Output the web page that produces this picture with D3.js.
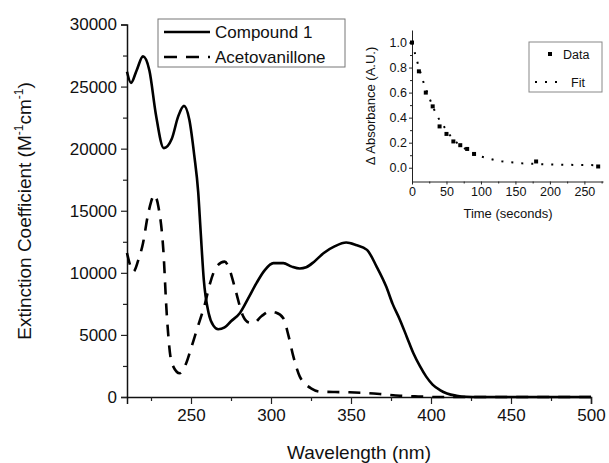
<!DOCTYPE html>
<html>
<head>
<meta charset="utf-8">
<script src="https://cdn.jsdelivr.net/npm/d3@7"></script>
<style>
  body { margin: 0; background: #fff; }
  text { font-family: "Liberation Sans", Arial, sans-serif; fill: #111; }
</style>
</head>
<body>
<div id="chart"></div>
<script>
// main spectrum: wavelength (nm) vs extinction coefficient
var compWl  = [210, 212.5, 216, 220, 224, 228, 233, 238, 242, 245.6, 249, 252, 254.5, 256, 258, 261, 264, 267, 271, 275, 280.6, 286, 291, 296, 301.5, 307.7, 313, 318, 322, 327, 333, 340, 347, 353, 360, 366, 372, 376, 380.6, 385, 389, 393, 397, 401, 405.6, 410, 416, 422, 430, 450, 475, 500];
var compEps = [26200, 25300, 26300, 27430, 26300, 22800, 20040, 20800, 22600, 23450, 22300, 19500, 16500, 13400, 9430, 6770, 5750, 5455, 5600, 6100, 6770, 8000, 9190, 10200, 10780, 10780, 10500, 10350, 10450, 10900, 11600, 12150, 12440, 12250, 11850, 10500, 8890, 7500, 6210, 4800, 3520, 2500, 1640, 1000, 560, 280, 100, 20, 0, 0, 0, 0];

var acetWl  = [210, 212, 214, 217, 220, 223, 225, 227, 229.6, 232.7, 234.8, 238, 243, 247, 250, 253.6, 258.8, 262, 266, 271, 274, 277.5, 282.7, 286, 289, 294, 299, 303, 307.7, 311, 314, 318, 321, 325, 330.6, 340, 349, 360, 370, 380.6, 392, 405, 430, 500];
var acetEps = [11600, 10600, 10100, 11000, 12390, 14600, 15700, 16280, 15340, 11850, 6770, 2720, 1910, 2720, 3900, 5400, 7550, 9200, 10500, 10900, 10300, 8760, 6470, 6000, 5940, 6500, 6880, 6800, 6340, 4900, 3250, 1640, 1100, 700, 430, 400, 380, 320, 220, 100, 40, 0, 0, 0];

var xTicks = [250, 300, 350, 400, 450, 500];
var yTicks = [0, 5000, 10000, 15000, 20000, 25000, 30000];
var seriesNames = ["Compound 1", "Acetovanillone"];

// inset: decay kinetics
var dataT   = [0, 10, 20, 30, 40, 50, 60, 70, 80, 90, 180, 270];
var dataAbs = [1.0, 0.77, 0.6, 0.49, 0.33, 0.27, 0.21, 0.18, 0.15, 0.11, 0.05, 0.01];
var fitT    = [0, 5, 10, 15, 20, 25, 30, 35, 40, 45, 50, 55, 60, 65, 70, 75, 80, 85, 90, 95, 100, 110, 120, 130, 140, 150, 160, 170, 180, 190, 200, 210, 220, 230, 240, 250, 260, 270];
var fitAbs  = [1.0, 0.9, 0.8, 0.71, 0.63, 0.56, 0.49, 0.43, 0.38, 0.34, 0.3, 0.26, 0.23, 0.2, 0.18, 0.16, 0.14, 0.125, 0.11, 0.1, 0.09, 0.075, 0.062, 0.052, 0.045, 0.04, 0.035, 0.032, 0.03, 0.028, 0.026, 0.025, 0.024, 0.023, 0.022, 0.022, 0.021, 0.02];
var insetXTicks = [0, 50, 100, 150, 200, 250];
var insetYTicks = [0.0, 0.2, 0.4, 0.6, 0.8, 1.0];

var W = 609, H = 463;
var svg = d3.select("#chart").append("svg").attr("width", W).attr("height", H);

var x = d3.scaleLinear().domain([210, 500]).range([127, 591]);
var y = d3.scaleLinear().domain([0, 30000]).range([397, 24.5]);

// axes
var xAxis = d3.axisBottom(x).tickValues(xTicks).tickSize(7).tickPadding(5).tickFormat(d3.format("d"));
var gx = svg.append("g").attr("transform", "translate(0," + y(0) + ")").call(xAxis);
svg.append("g").attr("transform", "translate(0," + y(0) + ")")
  .call(d3.axisBottom(x).tickValues([225, 275, 325, 375, 425, 475]).tickSize(4).tickFormat(""))
  .select(".domain").remove();

var yAxis = d3.axisLeft(y).tickValues(yTicks).tickSize(6).tickPadding(4).tickFormat(d3.format("d"));
var gy = svg.append("g").attr("transform", "translate(" + x(210) + ",0)").call(yAxis);
svg.append("g").attr("transform", "translate(" + x(210) + ",0)")
  .call(d3.axisLeft(y).tickValues([2500, 7500, 12500, 17500, 22500, 27500]).tickSize(4).tickFormat(""))
  .select(".domain").remove();

svg.selectAll(".domain").attr("stroke", "#111").attr("stroke-width", 1.5);
svg.selectAll(".tick line").attr("stroke", "#111").attr("stroke-width", 1.2);
gx.selectAll("text").attr("font-size", 17).attr("font-family", "Liberation Sans, Arial, sans-serif").attr("fill", "#111");
gy.selectAll("text").attr("font-size", 17).attr("font-family", "Liberation Sans, Arial, sans-serif").attr("fill", "#111");

// axis titles
svg.append("text").attr("x", 359).attr("y", 459).attr("text-anchor", "middle")
  .attr("font-size", 19).text("Wavelength (nm)");

var yt = svg.append("text").attr("transform", "translate(31,211) rotate(-90)")
  .attr("text-anchor", "middle").attr("font-size", 19);
yt.append("tspan").text("Extinction Coefficient (M");
yt.append("tspan").attr("font-size", 12).attr("dy", -8).text("-1");
yt.append("tspan").attr("dy", 8).text("cm");
yt.append("tspan").attr("font-size", 12).attr("dy", -8).text("-1");
yt.append("tspan").attr("dy", 8).text(")");

// curves
var line = d3.line().curve(d3.curveMonotoneX)
  .x(function (d) { return x(d[0]); })
  .y(function (d) { return y(d[1]); });

svg.append("path").datum(acetWl.map(function (w, i) { return [w, acetEps[i]]; }))
  .attr("d", line).attr("fill", "none").attr("stroke", "#000")
  .attr("stroke-width", 2.6).attr("stroke-dasharray", "12,9");

svg.append("path").datum(compWl.map(function (w, i) { return [w, compEps[i]]; }))
  .attr("d", line).attr("fill", "none").attr("stroke", "#000")
  .attr("stroke-width", 2.6);

// main legend
var lg = svg.append("g");
lg.append("rect").attr("x", 158).attr("y", 19).attr("width", 187).attr("height", 48)
  .attr("fill", "#fff").attr("stroke", "#777").attr("stroke-width", 1);
lg.append("line").attr("x1", 164).attr("x2", 210).attr("y1", 32).attr("y2", 32)
  .attr("stroke", "#000").attr("stroke-width", 2.6);
lg.append("line").attr("x1", 164).attr("x2", 210).attr("y1", 57).attr("y2", 57)
  .attr("stroke", "#000").attr("stroke-width", 2.6).attr("stroke-dasharray", "13,9");
lg.append("text").attr("x", 215).attr("y", 38).attr("font-size", 17).text(seriesNames[0]);
lg.append("text").attr("x", 215).attr("y", 63).attr("font-size", 17).text(seriesNames[1]);

// inset
var ix = d3.scaleLinear().domain([0, 277]).range([412, 603]);
var iy = d3.scaleLinear().domain([-0.11, 1.1]).range([181.5, 30]);

var igx = svg.append("g").attr("transform", "translate(0," + iy(-0.11) + ")")
  .call(d3.axisBottom(ix).tickValues(insetXTicks).tickSize(3).tickPadding(3).tickSizeOuter(0));
svg.append("g").attr("transform", "translate(0," + iy(-0.11) + ")")
  .call(d3.axisBottom(ix).tickValues([25, 75, 125, 175, 225, 275]).tickSize(2).tickFormat(""))
  .select(".domain").remove();
var igy = svg.append("g").attr("transform", "translate(412,0)")
  .call(d3.axisLeft(iy).tickValues(insetYTicks).tickSize(3).tickPadding(2).tickSizeOuter(0).tickFormat(d3.format(".1f")));
svg.append("g").attr("transform", "translate(412,0)")
  .call(d3.axisLeft(iy).tickValues([0.1, 0.3, 0.5, 0.7, 0.9]).tickSize(2).tickFormat(""))
  .select(".domain").remove();
[igx, igy].forEach(function (g) {
  g.select(".domain").attr("stroke", "#222").attr("stroke-width", 1);
  g.selectAll("text").attr("font-size", 12.5).attr("font-family", "Liberation Sans, Arial, sans-serif").attr("fill", "#111");
});
svg.selectAll(".tick line").attr("stroke", "#222");

svg.append("text").attr("x", 508).attr("y", 218).attr("text-anchor", "middle")
  .attr("font-size", 13).text("Time (seconds)");
svg.append("text").attr("transform", "translate(375,106) rotate(-90)")
  .attr("text-anchor", "middle").attr("font-size", 13).text("\u0394 Absorbance (A.U.)");

var iline = d3.line()
  .x(function (d) { return ix(d[0]); })
  .y(function (d) { return iy(d[1]); });
svg.append("path").datum(fitT.map(function (t, i) { return [t, fitAbs[i]]; }))
  .attr("d", iline).attr("fill", "none").attr("stroke", "#000")
  .attr("stroke-width", 2).attr("stroke-dasharray", "2,8");

svg.selectAll(".pt").data(dataT.map(function (t, i) { return [t, dataAbs[i]]; }))
  .enter().append("rect").attr("class", "pt")
  .attr("x", function (d) { return ix(d[0]) - 2; })
  .attr("y", function (d) { return iy(d[1]) - 2; })
  .attr("width", 4).attr("height", 4).attr("fill", "#000");

// inset legend
var il = svg.append("g");
il.append("rect").attr("x", 529).attr("y", 42).attr("width", 73).attr("height", 50)
  .attr("fill", "#fff").attr("stroke", "#888").attr("stroke-width", 1);
il.append("rect").attr("x", 548).attr("y", 52).attr("width", 4).attr("height", 4).attr("fill", "#000");
il.append("line").attr("x1", 535).attr("x2", 560).attr("y1", 82).attr("y2", 82)
  .attr("stroke", "#000").attr("stroke-width", 2).attr("stroke-dasharray", "2,8");
il.append("text").attr("x", 563).attr("y", 59).attr("font-size", 12.5).text("Data");
il.append("text").attr("x", 571).attr("y", 87).attr("font-size", 12.5).text("Fit");
</script>
</body>
</html>
